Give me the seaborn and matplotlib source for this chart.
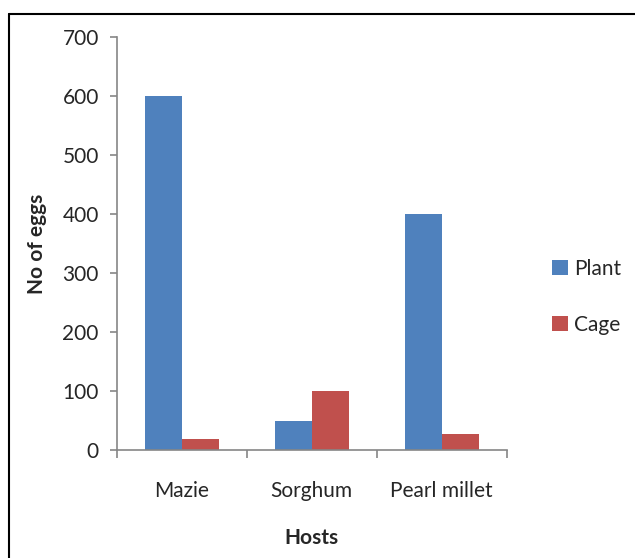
import matplotlib
matplotlib.use("Agg")
import matplotlib.pyplot as plt
import seaborn as sns
import pandas as pd
from matplotlib.lines import Line2D
from matplotlib.patches import Patch

hosts = ["Mazie", "Sorghum", "Pearl millet"]
plant = [600, 50, 400]
cage = [18, 100, 28]
series = ["Plant", "Cage"]
colors = ["#4F81BD", "#C0504D"]

df = pd.DataFrame({
    "Hosts": hosts * 2,
    "Eggs": plant + cage,
    "Series": ["Plant"] * 3 + ["Cage"] * 3,
})

sns.set_theme(style="white")
plt.rcParams['font.family'] = ['Lato', 'DejaVu Sans']

fs = 15
fig = plt.figure(figsize=(6.35, 5.58), dpi=100)
ax = fig.add_axes([0.184, 0.1935, 0.614, 0.7402])
sns.barplot(data=df, x="Hosts", y="Eggs", hue="Series", palette=colors,
            width=0.57, ax=ax, legend=False, edgecolor="none", saturation=1)

ax.set_xlim(-0.5, 2.5)
ax.set_ylim(0, 700)
ax.set_yticks(range(0, 701, 100))
ax.tick_params(axis='y', labelsize=fs, length=5, width=1.2, color="#868686",
               direction='out', left=True, pad=8)
ax.set_xticks([0, 1, 2])
ax.set_xticklabels(hosts)
ax.set_xticks([-0.5, 0.5, 1.5, 2.5], minor=True)
ax.tick_params(axis='x', which='major', length=0, labelsize=fs, pad=22)
ax.tick_params(axis='x', which='minor', length=6, width=1.2, color="#868686",
               direction='out', bottom=True)
for s in ["top", "right"]:
    ax.spines[s].set_visible(False)
for s in ["left", "bottom"]:
    ax.spines[s].set_color("#868686")
    ax.spines[s].set_linewidth(1.2)
ax.set_xlabel("Hosts", fontsize=fs, fontweight="bold", labelpad=20)
ax.set_ylabel("No of eggs", fontsize=fs, fontweight="bold", labelpad=11)

handles = [Patch(facecolor=c, edgecolor="none") for c in colors]
fig.legend(handles, series, loc="center left", bbox_to_anchor=(0.84, 0.468),
           frameon=False, fontsize=fs, labelspacing=1.75, handlelength=0.75,
           handleheight=0.75, handletextpad=0.3)

fig.add_artist(Line2D([9/635, 9/635], [0, 1 - 14/558], color="black", lw=1.5,
                      transform=fig.transFigure))
fig.add_artist(Line2D([9/635, 1], [1 - 14/558, 1 - 14/558], color="black", lw=1.5,
                      transform=fig.transFigure))

fig.savefig("out.png", dpi=100)
